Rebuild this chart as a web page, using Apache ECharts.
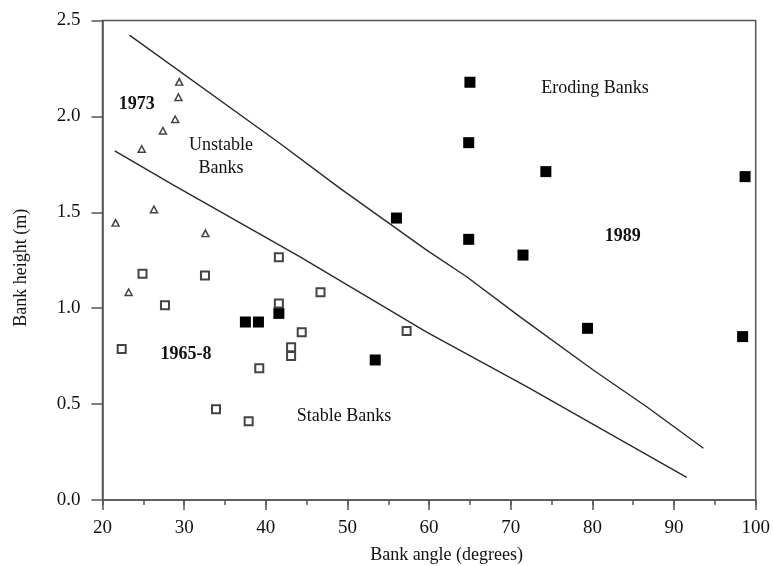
<!DOCTYPE html>
<html>
<head>
<meta charset="utf-8">
<title>Bank height vs bank angle</title>
<script src="https://cdn.jsdelivr.net/npm/echarts@6/dist/echarts.min.js"></script>
<style>
  html, body { margin: 0; padding: 0; background: #fff; }
  #chart { width: 773px; height: 566px; }
</style>
</head>
<body>
<div id="chart"></div>
<script>
// Bank survey points: [bank angle (degrees), bank height (m)]
const banks1965 = [
  [24.9, 1.18], [32.55, 1.17], [27.65, 1.015], [22.35, 0.787],
  [41.6, 1.265], [41.6, 1.025], [39.2, 0.687], [33.9, 0.473],
  [37.9, 0.41], [43.1, 0.796], [43.1, 0.751], [44.4, 0.874],
  [46.7, 1.083], [57.25, 0.881]
];
const banks1973 = [
  [29.4, 2.18], [29.3, 2.10], [28.9, 1.985], [27.4, 1.925],
  [24.8, 1.83], [26.3, 1.515], [21.6, 1.445], [32.6, 1.39],
  [23.2, 1.083]
];
const banks1989 = [
  [37.5, 0.928], [39.1, 0.928], [41.6, 0.973], [53.4, 0.73],
  [79.4, 0.895], [98.4, 0.852], [71.5, 1.277], [65.0, 2.178],
  [64.85, 1.863], [74.3, 1.712], [98.7, 1.686], [56.0, 1.47],
  [64.85, 1.359]
];
// Stability threshold curves
const erodingLimit = [
  [23.3, 2.424], [41.7, 1.86], [49.1, 1.625], [59.7, 1.303], [64.6, 1.164],
  [71.1, 0.956], [80.1, 0.678], [86.65, 0.486], [93.6, 0.27]
];
const stableLimit = [
  [21.5, 1.82], [28.7, 1.642], [44.2, 1.268], [59.7, 0.875],
  [71.95, 0.591], [91.55, 0.118]
];
// Axis ranges
const xRange = { min: 20, max: 100, step: 10, minorStep: 5 };
const yRange = { min: 0, max: 2.5, step: 0.5 };

const serif = 'Liberation Serif';
const axisColor = '#555';
const textColor = '#111';

const chart = echarts.init(document.getElementById('chart'), null, { renderer: 'canvas' });

const annotation = (text, x, y, bold) => ({
  type: 'text', x, y,
  style: {
    text, font: (bold ? 'bold ' : '') + '18px "Liberation Serif"', lineHeight: 23,
    fill: textColor, align: 'center', verticalAlign: 'middle'
  }
});

chart.setOption({
  animation: false,
  backgroundColor: '#fff',
  grid: {
    left: 102.5, right: 17.3, top: 20.5, bottom: 66,
    outerBoundsMode: 'none',
    containLabel: false,
    show: true, borderColor: axisColor, borderWidth: 1.5, backgroundColor: 'transparent'
  },
  xAxis: [
    {
      type: 'value',
      min: xRange.min, max: xRange.max, interval: xRange.step,
      name: 'Bank angle (degrees)',
      nameLocation: 'middle',
      nameGap: 46,
      nameTextStyle: { fontFamily: serif, fontSize: 18, color: textColor, padding: [0, 0, 0, 35] },
      axisLine: { lineStyle: { color: axisColor, width: 1.5 } },
      axisTick: { show: true, inside: false, length: 10, lineStyle: { color: axisColor, width: 1.5 } },
      splitLine: { show: false },
      axisLabel: { fontFamily: serif, fontSize: 19, color: textColor, margin: 19 },
      z: 3
    },
    {
      // short ticks every 5 degrees
      type: 'value', position: 'bottom', gridIndex: 0,
      min: xRange.min, max: xRange.max, interval: xRange.minorStep,
      axisLine: { show: false },
      axisTick: { show: true, inside: false, length: 5, lineStyle: { color: axisColor, width: 1.5 } },
      axisLabel: { show: false },
      splitLine: { show: false },
      z: 2
    }
  ],
  yAxis: {
    type: 'value',
    min: yRange.min, max: yRange.max, interval: yRange.step,
    name: 'Bank height (m)',
    nameLocation: 'middle',
    nameGap: 72,
    nameTextStyle: { fontFamily: serif, fontSize: 18, color: textColor, padding: [0, 15, 0, 0] },
    axisLine: { lineStyle: { color: axisColor, width: 1.5 } },
    axisTick: { show: true, inside: false, length: 11, lineStyle: { color: axisColor, width: 1.5 } },
    splitLine: { show: false },
    axisLabel: {
      fontFamily: serif, fontSize: 19, color: textColor, margin: 22,
      formatter: v => v.toFixed(1)
    }
  },
  series: [
    {
      type: 'line', data: erodingLimit, showSymbol: false, smooth: false,
      lineStyle: { color: '#2a2a2a', width: 1.4 }, z: 2
    },
    {
      type: 'line', data: stableLimit, showSymbol: false, smooth: false,
      lineStyle: { color: '#2a2a2a', width: 1.4 }, z: 2
    },
    {
      name: '1989', type: 'scatter', data: banks1989,
      symbol: 'rect', symbolSize: 11,
      itemStyle: { color: '#000', opacity: 1 }, z: 3
    },
    {
      name: '1965-8', type: 'scatter', data: banks1965,
      symbol: 'rect', symbolSize: 8,
      itemStyle: { color: '#fff', borderColor: '#444', borderWidth: 2, opacity: 1 }, z: 4
    },
    {
      name: '1973', type: 'scatter', data: banks1973,
      symbol: 'triangle', symbolSize: [7, 6.5],
      itemStyle: { color: '#fff', borderColor: '#444', borderWidth: 1.5, opacity: 1 }, z: 4
    }
  ],
  graphic: [
    annotation('1973', 136.7, 104.3, true),
    annotation('Unstable\nBanks', 221, 157, false),
    annotation('Eroding Banks', 595, 88.3, false),
    annotation('1989', 622.7, 236, true),
    annotation('1965-8', 186, 354.3, true),
    annotation('Stable Banks', 344, 416, false)
  ]
});
</script>
</body>
</html>
